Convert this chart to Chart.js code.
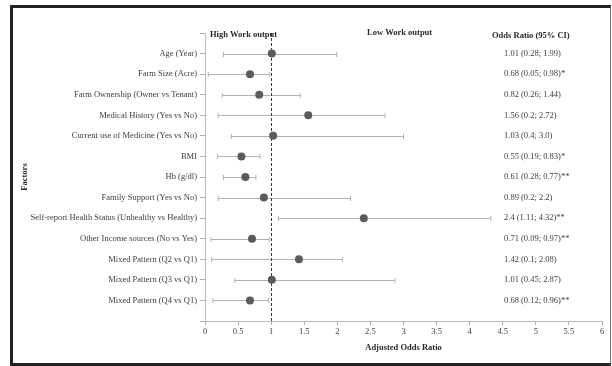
<!DOCTYPE html>
<html>
<head>
<meta charset="utf-8">
<script src="https://cdn.jsdelivr.net/npm/chart.js@4/dist/chart.umd.min.js"></script>
<style>
  html, body { margin: 0; padding: 0; background: #fff; }
  #wrap { position: relative; width: 612px; height: 366px; overflow: hidden; }
  #chart { position: absolute; left: 0; top: 0; }
  #frame {
    position: absolute; left: 10px; top: 5px; width: 601px; height: 361px;
    box-sizing: border-box; pointer-events: none;
    border-top: 3px solid #222; border-left: 3px solid #222;
    border-bottom: 3px solid #222; border-right: 1px solid #777;
  }
</style>
</head>
<body>
<div id="wrap">
  <canvas id="chart" width="612" height="366"></canvas>
  <div id="frame"></div>
</div>
<script>
// Factors, listed top to bottom
const factors = [
  'Age (Year)',
  'Farm Size (Acre)',
  'Farm Ownership (Owner vs Tenant)',
  'Medical History (Yes vs No)',
  'Current use of Medicine (Yes vs No)',
  'BMI',
  'Hb (g/dl)',
  'Family Support (Yes vs No)',
  'Self-report Health Status (Unhealthy vs Healthy)',
  'Other Income sources (No vs Yes)',
  'Mixed Pattern (Q2 vs Q1)',
  'Mixed Pattern (Q3 vs Q1)',
  'Mixed Pattern (Q4 vs Q1)'
];

// Adjusted odds ratios with 95% confidence bounds
const oddsRatio = [1.01, 0.68, 0.82, 1.56, 1.03, 0.55, 0.61, 0.89, 2.4, 0.71, 1.42, 1.01, 0.68];
const ciLower   = [0.28, 0.05, 0.26, 0.2,  0.4,  0.19, 0.28, 0.2,  1.11, 0.09, 0.1,  0.45, 0.12];
const ciUpper   = [1.99, 0.98, 1.44, 2.72, 3.0,  0.83, 0.77, 2.2,  4.32, 0.97, 2.08, 2.87, 0.96];

// Text shown in the right-hand column
const ciLabels = [
  '1.01 (0.28; 1.99)',
  '0.68 (0.05; 0.98)*',
  '0.82 (0.26; 1.44)',
  '1.56 (0.2; 2.72)',
  '1.03 (0.4; 3.0)',
  '0.55 (0.19; 0.83)*',
  '0.61 (0.28; 0.77)**',
  '0.89 (0.2; 2.2)',
  '2.4 (1.11; 4.32)**',
  '0.71 (0.09; 0.97)**',
  '1.42 (0.1; 2.08)',
  '1.01 (0.45; 2.87)',
  '0.68 (0.12; 0.96)**'
];

const xTickValues = [0, 0.5, 1, 1.5, 2, 2.5, 3, 3.5, 4, 4.5, 5, 5.5, 6];
const referenceLine = 1;

const SERIF = "'Liberation Serif', 'DejaVu Serif', serif";
const TEXT = '#404040';

// Row position on the vertical scale: first factor at the top
const rowOf = i => factors.length - i;

const points = oddsRatio.map((v, i) => ({ x: v, y: rowOf(i) }));

// Confidence-interval whiskers and the dashed no-effect line
const whiskers = {
  id: 'whiskers',
  beforeDatasetsDraw(chart) {
    const { ctx, chartArea, scales: { x, y } } = chart;
    ctx.save();
    ctx.strokeStyle = '#b3b3b3';
    ctx.lineWidth = 1;
    ciLower.forEach((lo, i) => {
      const py = Math.round(y.getPixelForValue(rowOf(i))) + 0.5;
      const x0 = x.getPixelForValue(lo);
      const x1 = x.getPixelForValue(ciUpper[i]);
      ctx.beginPath();
      ctx.moveTo(x0, py); ctx.lineTo(x1, py);
      ctx.moveTo(x0, py - 2.5); ctx.lineTo(x0, py + 2.5);
      ctx.moveTo(x1, py - 2.5); ctx.lineTo(x1, py + 2.5);
      ctx.stroke();
    });
    const rx = Math.round(x.getPixelForValue(referenceLine)) + 0.5;
    ctx.strokeStyle = '#3a3a3a';
    ctx.setLineDash([3, 2]);
    ctx.beginPath();
    ctx.moveTo(rx, chartArea.top);
    ctx.lineTo(rx, chartArea.bottom);
    ctx.stroke();
    ctx.restore();
  }
};

// Column headers and the odds-ratio text per row
const annotations = {
  id: 'annotations',
  afterDraw(chart) {
    const { ctx, chartArea, scales: { y } } = chart;
    ctx.save();
    ctx.fillStyle = '#2a2a2a';
    ctx.textBaseline = 'middle';
    ctx.textAlign = 'left';
    ctx.font = 'bold 8.5px ' + SERIF;
    ctx.fillText('High Work output', chartArea.left + 5, 35);
    ctx.fillText('Low Work output', chartArea.left + 162, 33);
    ctx.fillText('Odds Ratio (95% CI)', chartArea.left + 287, 36);
    ctx.font = '8.5px ' + SERIF;
    ctx.fillStyle = TEXT;
    ciLabels.forEach((t, i) => {
      ctx.fillText(t, chartArea.left + 299, y.getPixelForValue(rowOf(i)));
    });
    ctx.restore();
  }
};

new Chart(document.getElementById('chart'), {
  type: 'scatter',
  data: {
    datasets: [{
      data: points,
      pointRadius: 4,
      pointHoverRadius: 4,
      pointBackgroundColor: '#5b5b5b',
      pointBorderColor: '#5b5b5b',
      pointBorderWidth: 0
    }]
  },
  options: {
    responsive: false,
    animation: false,
    events: [],
    layout: { padding: { top: 33, right: 10, bottom: 0, left: 0 } },
    plugins: { legend: { display: false }, tooltip: { enabled: false } },
    scales: {
      x: {
        type: 'linear',
        min: 0,
        max: 6,
        afterBuildTicks: s => { s.ticks = xTickValues.map(v => ({ value: v })); },
        afterFit: s => { s.height = 45; },
        ticks: {
          autoSkip: false,
          maxRotation: 0,
          padding: 2,
          color: TEXT,
          font: { family: SERIF, size: 8.5 },
          callback: v => String(v)
        },
        grid: { drawOnChartArea: false, tickLength: 4, color: '#b0b0b0' },
        border: { color: '#bdbdbd' },
        title: {
          display: true,
          text: 'Adjusted Odds Ratio',
          color: '#2a2a2a',
          font: { family: SERIF, size: 8.5, weight: 'bold' },
          padding: { top: 0, bottom: 13 }
        }
      },
      y: {
        type: 'linear',
        min: 0,
        max: factors.length + 1,
        afterBuildTicks: s => {
          s.ticks = Array.from({ length: factors.length + 2 }, (_, i) => ({ value: i }));
        },
        afterFit: s => { s.width = 205; },
        ticks: {
          autoSkip: false,
          padding: 3,
          color: TEXT,
          font: { family: SERIF, size: 8.5 },
          callback: v => (v >= 1 && v <= factors.length) ? factors[factors.length - v] : ''
        },
        grid: { drawOnChartArea: false, tickLength: 5, color: '#b0b0b0' },
        border: { color: '#bdbdbd' },
        title: {
          display: true,
          text: 'Factors',
          color: '#2a2a2a',
          font: { family: SERIF, size: 8.5, weight: 'bold' },
          padding: { top: 20, bottom: 0 }
        }
      }
    }
  },
  plugins: [whiskers, annotations]
});
</script>
</body>
</html>
